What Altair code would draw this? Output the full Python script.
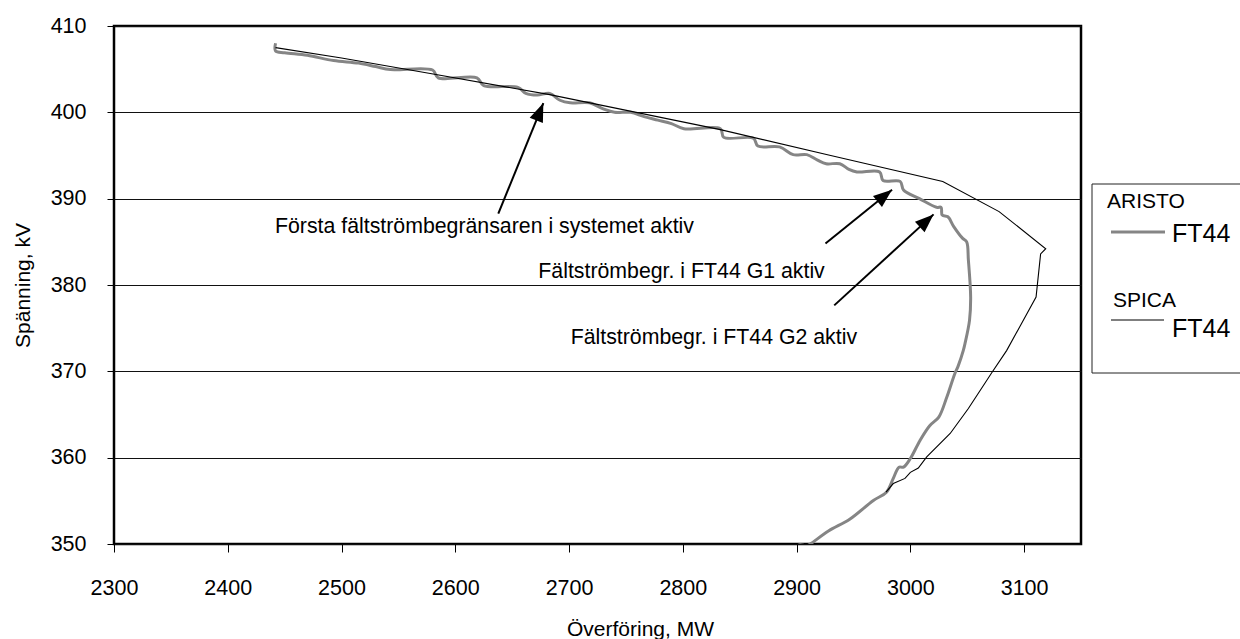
import math
import altair as alt
import pandas as pd

# ---------------- data ----------------
aristo_x = [2442, 2442, 2450, 2470, 2493, 2515, 2530, 2543, 2580, 2585, 2619, 2625,
            2655, 2662, 2672, 2683, 2692, 2701, 2718, 2730, 2740, 2754, 2766, 2778,
            2790, 2801, 2833, 2836, 2862, 2866, 2885, 2897, 2909, 2918, 2926, 2938,
            2946, 2953, 2973, 2976, 2991, 2994, 3008, 3023, 3027, 3028, 3033, 3038,
            3046, 3049.5, 3051, 3053, 3052, 3048, 3046.5, 3042, 3039, 3032, 3025,
            3017, 3008.5, 3000, 2994, 2990, 2985, 2979, 2967.5, 2947, 2928, 2912.5,
            2909, 2903, 2899]
aristo_y = [408.0, 407.1, 406.9, 406.6, 406.0, 405.7, 405.3, 404.95, 404.9, 404.0, 404.0, 403.1,
            402.9, 402.2, 402.0, 402.2, 401.4, 401.1, 401.1, 400.4, 400.0, 400.0, 399.5, 399.1,
            398.7, 398.1, 398.1, 397.1, 397.0, 396.1, 396.0, 395.1, 395.1, 394.5, 394.05, 394.05,
            393.4, 393.1, 393.1, 392.1, 392.0, 391.0, 390.0, 389.0, 389.0, 388.1, 387.9, 386.8,
            385.4, 385.0, 382.9, 378.6, 375.9, 373.2, 372.4, 370.6, 369.7, 367.0, 364.7,
            363.7, 362.0, 359.9, 358.9, 358.9, 357.6, 356.0, 355.05, 352.9, 351.5, 350.05,
            349.8, 349.9, 349.7]

spica_x = [2442, 2500, 2578, 2683, 2833, 2930, 3028.5, 3078, 3119, 3114.5, 3110.5,
           3084.6, 3071.4, 3051, 3035, 3014.4, 3007, 3000, 2995.3, 2985, 2978.6]
spica_y = [407.5, 406.3, 404.5, 402.05, 398.0, 395.0, 392.0, 388.5, 384.2, 383.6, 378.6,
           372.4, 369.8, 365.7, 362.8, 360.1, 358.8, 358.3, 357.6, 357.0, 356.0]

x_ticks = [2300, 2400, 2500, 2600, 2700, 2800, 2900, 3000, 3100]
y_ticks = [350, 360, 370, 380, 390, 400, 410]

notes = ["Första fältströmbegränsaren i systemet aktiv",
         "Fältströmbegr. i FT44 G1 aktiv",
         "Fältströmbegr. i FT44 G2 aktiv"]
note_x = [2441.5, 2673, 2701.4]
note_y = [385.98, 380.77, 373.2]

arrow_x_from = [2637.8, 2925.4, 2933.1]
arrow_y_from = [388.26, 384.8, 377.64]
arrow_x_to = [2677.4, 2983.9, 3020.4]
arrow_y_to = [401.08, 391.04, 388.18]

legend_titles = ["ARISTO", "SPICA"]
legend_labels = ["FT44", "FT44"]

# ---------------- layout ----------------
X_DOMAIN = [2300, 3150]
Y_DOMAIN = [350, 410]
W, H = 967, 518
FONT = "Liberation Sans"

px_x = W / (X_DOMAIN[1] - X_DOMAIN[0])
px_y = H / (Y_DOMAIN[1] - Y_DOMAIN[0])

aristo = pd.DataFrame({"x": aristo_x, "y": aristo_y, "i": range(len(aristo_x))})
spica = pd.DataFrame({"x": spica_x, "y": spica_y, "i": range(len(spica_x))})
notes_df = pd.DataFrame({"x": note_x, "y": note_y, "t": notes})
angles = []
for a, b, c, d in zip(arrow_x_from, arrow_y_from, arrow_x_to, arrow_y_to):
    ang = math.degrees(math.atan2((c - a) * px_x, (d - b) * px_y)) % 360
    angles.append(ang)
arrows = pd.DataFrame({"x": arrow_x_from, "y": arrow_y_from,
                       "x2": arrow_x_to, "y2": arrow_y_to, "ang": angles})

xs = alt.Scale(domain=X_DOMAIN, nice=False, zero=False)
ys = alt.Scale(domain=Y_DOMAIN, nice=False, zero=False)

x_axis = alt.Axis(values=x_ticks, format="d", title="Överföring, MW", grid=False, domain=False,
                  tickSize=8, tickColor="black", labelPadding=25,
                  labelFontSize=21.5, labelColor="black", labelFont=FONT,
                  titleFontSize=21, titleFontWeight="normal", titleFont=FONT, titleColor="black",
                  titleX=526, titleY=91, titleBaseline="alphabetic", titleAlign="center",
                  labelFlush=False, labelOverlap=False)
y_axis = alt.Axis(values=y_ticks, format="d", title="Spänning, kV", grid=True, gridColor="#111111",
                  gridWidth=1, domain=False, tickSize=7, tickColor="black", labelPadding=21,
                  labelFontSize=21.5, labelColor="black", labelFont=FONT,
                  titleFontSize=21, titleFontWeight="normal", titleFont=FONT, titleColor="black",
                  titleX=-85, titleY=259, titleAngle=270, titleBaseline="alphabetic",
                  titleAlign="center", labelFlush=False, labelOverlap=False)

line_a = alt.Chart(aristo).mark_line(color="#858585", strokeWidth=3, clip=True,
                                     interpolate="catmull-rom").encode(
    x=alt.X("x:Q", scale=xs, axis=x_axis),
    y=alt.Y("y:Q", scale=ys, axis=y_axis),
    order="i:Q")

line_s = alt.Chart(spica).mark_line(color="black", strokeWidth=1.1, clip=True).encode(
    x=alt.X("x:Q", scale=xs), y=alt.Y("y:Q", scale=ys), order="i:Q")

shafts = alt.Chart(arrows).mark_rule(color="black", strokeWidth=2).encode(
    x=alt.X("x:Q", scale=xs), y=alt.Y("y:Q", scale=ys),
    x2="x2:Q", y2="y2:Q")

heads = alt.Chart(arrows).mark_point(
    shape="M0,0L-0.38,1L0.38,1Z", filled=True, color="black", opacity=1,
    size=1400, strokeWidth=0).encode(
    x=alt.X("x2:Q", scale=xs), y=alt.Y("y2:Q", scale=ys), angle=alt.Angle("ang:Q", scale=None))

texts = alt.Chart(notes_df).mark_text(
    align="left", baseline="alphabetic", font=FONT, fontSize=21.3, color="black").encode(
    x=alt.X("x:Q", scale=xs), y=alt.Y("y:Q", scale=ys), text="t:N")

# ---------------- hand-drawn legend (pixel positions relative to plot) ----------------
one = pd.DataFrame({"k": [0]})
leg = [
    alt.Chart(one).mark_rule(color="#222222", strokeWidth=1).encode(
        x=alt.value(978), x2=alt.value(1130), y=alt.value(158)),
    alt.Chart(one).mark_rule(color="#222222", strokeWidth=1).encode(
        x=alt.value(978), x2=alt.value(1130), y=alt.value(347)),
    alt.Chart(one).mark_rule(color="#222222", strokeWidth=1).encode(
        x=alt.value(978), y=alt.value(158), y2=alt.value(347)),
    alt.Chart(one).mark_rule(color="#858585", strokeWidth=3).encode(
        x=alt.value(997), x2=alt.value(1051), y=alt.value(206)),
    alt.Chart(one).mark_rule(color="black", strokeWidth=1.1).encode(
        x=alt.value(997), x2=alt.value(1050), y=alt.value(294)),
    alt.Chart(one).mark_text(text=legend_titles[0], align="left", baseline="alphabetic",
                             font=FONT, fontSize=21, color="black").encode(
        x=alt.value(993), y=alt.value(182)),
    alt.Chart(one).mark_text(text=legend_labels[0], align="left", baseline="alphabetic",
                             font=FONT, fontSize=25, color="black").encode(
        x=alt.value(1058), y=alt.value(216)),
    alt.Chart(one).mark_text(text=legend_titles[1], align="left", baseline="alphabetic",
                             font=FONT, fontSize=21, color="black").encode(
        x=alt.value(999), y=alt.value(281)),
    alt.Chart(one).mark_text(text=legend_labels[1], align="left", baseline="alphabetic",
                             font=FONT, fontSize=25, color="black").encode(
        x=alt.value(1058), y=alt.value(311)),
]

chart = alt.layer(line_a, line_s, shafts, heads, texts, *leg).properties(
    width=W, height=H,
    autosize=alt.AutoSizeParams(type="none"),
    padding={"left": 114, "top": 26, "right": 159, "bottom": 95},
    background="white",
).configure_view(stroke="black", strokeWidth=2.5).configure_axis(
    tickWidth=1
)

chart.save("out.html", embed_options={"renderer": "svg", "actions": False})
